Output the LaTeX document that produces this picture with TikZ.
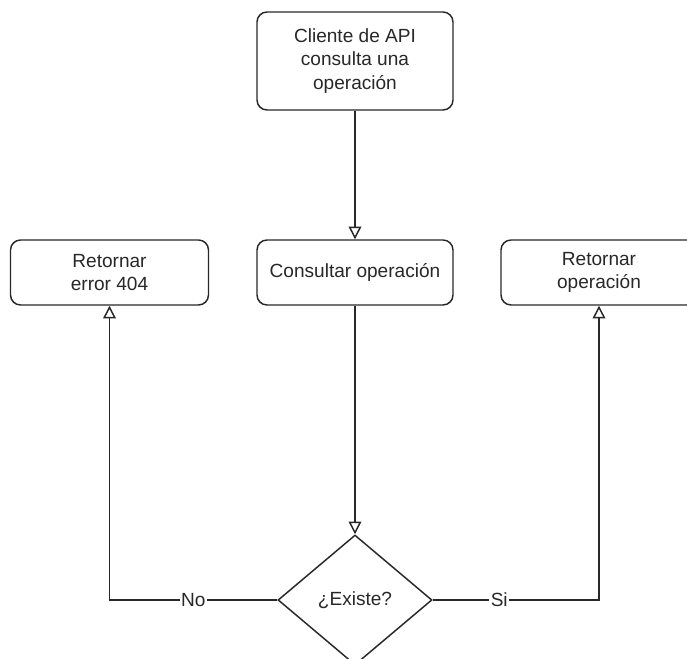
\documentclass[tikz,border=0pt]{standalone}
\usepackage{fontspec}
\setmainfont{Liberation Sans}
\usetikzlibrary{arrows.meta,shapes.geometric}
\definecolor{ink}{RGB}{40,40,40}
\tikzset{
  box/.style={draw=ink, line width=1.1pt, rounded corners=7.5pt, align=center, fill=white,
    text=ink, font=\fontsize{14.3}{17.5}\selectfont, inner sep=2pt},
  decision/.style={draw=ink, line width=1.1pt, diamond, inner sep=0pt, fill=white, text=ink,
    minimum width=115.5pt, minimum height=97.5pt, font=\fontsize{14.3}{17.5}\selectfont},
  arr/.style={draw=ink, line width=1.1pt, -{Triangle[open, length=9.5pt, width=9.5pt]}},
  lbl/.style={fill=white, text=ink, inner sep=1pt, font=\fontsize{14.3}{17.5}\selectfont}
}
\begin{document}
\begin{tikzpicture}[x=0.75pt, y=-0.75pt]
\clip (0,0) rectangle (687,659);
\fill[white] (0,0) rectangle (687,659);
\node[box, minimum width=147pt, minimum height=73.5pt] (top) at (355,61) {Cliente de API\\consulta una\\operación};
\node[box, minimum width=147pt, minimum height=48.75pt] (mid) at (355,272.5) {Consultar operación};
\node[box, minimum width=148.5pt, minimum height=48.75pt] (left) at (109.5,272.5) {Retornar\\error 404};
\node[box, minimum width=147pt, minimum height=48.75pt] (right) at (599,272.5) {Retornar\\operación};
\node[decision] (dia) at (355,600) {¿Existe?};
\draw[arr] (top) -- (mid);
\draw[arr] (mid) -- (dia);
\draw[arr] (dia.west) -| node[lbl, pos=0.25] {No} (left);
\draw[arr] (dia.east) -| node[lbl, pos=0.2] {Si} (right);
\end{tikzpicture}
\end{document}
